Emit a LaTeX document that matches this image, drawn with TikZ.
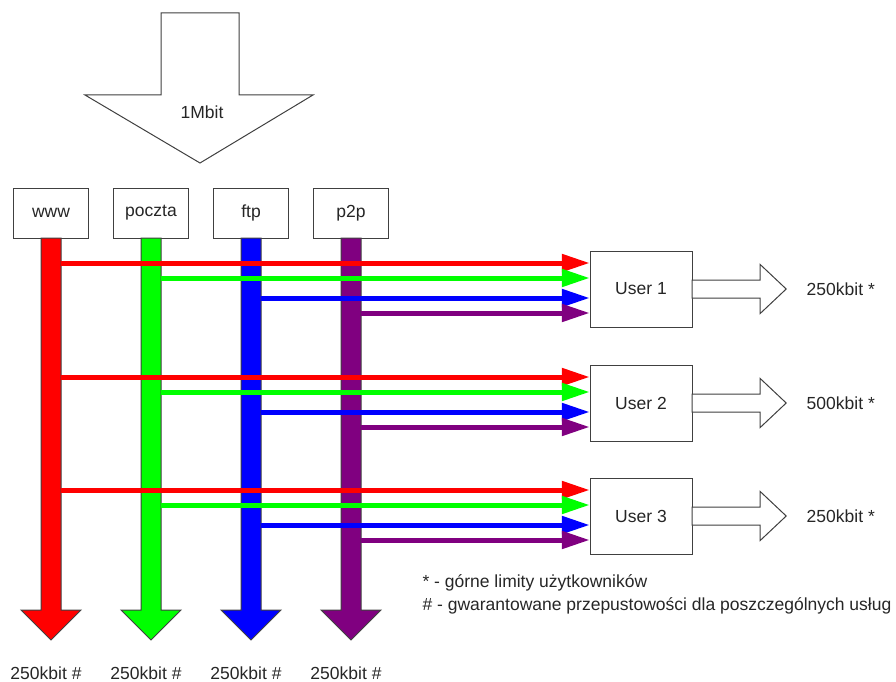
\documentclass[tikz,border=0pt]{standalone}
\usepackage{fontspec}
\setmainfont{Liberation Sans}
\usetikzlibrary{arrows.meta,calc}
\definecolor{wwwred}{RGB}{255,0,0}
\definecolor{mailgreen}{RGB}{0,255,0}
\definecolor{ftpblue}{RGB}{0,0,255}
\definecolor{ptppurple}{RGB}{128,0,128}
\tikzset{
  txt/.style={font=\fontsize{17.5}{23}\selectfont, text=black!85},
  svc/.style={draw=black!75, fill=white, minimum width=75pt, minimum height=50pt, inner sep=0pt, txt},
  usr/.style={draw=black!75, fill=white, minimum width=102pt, minimum height=76pt, inner sep=0pt, txt},
  flow/.style={line width=5pt, -{Triangle[length=28pt,width=17pt]}},
  fat/.style={draw=black!75, line width=1pt},
}
\begin{document}
\begin{tikzpicture}[x=1pt,y=-1pt]
    \useasboundingbox (0,0) rectangle (896,682);
    \draw[fat, fill=white] (161,13) -- (239,13) -- (239,95) -- (313,95) -- (200,163) -- (85,95) -- (161,95) -- cycle;
    \node[txt] (total) at (202,112) {1Mbit};
    \foreach \n/\c/\x in {www/wwwred/51, poczta/mailgreen/151, ftp/ftpblue/251, p2p/ptppurple/351} {
        \node[svc] (\n) at (\x,213) {\n};
        \node[txt] (g\n) at (\x-5,673) {250kbit \#};
        \coordinate (t\n) at (\x,640);
        \filldraw[fat, fill=\c] ($(\n.south)+(-10,0)$) -- ($(t\n)+(-10,-30)$) -- ($(t\n)+(-30,-30)$) -- (t\n)
            -- ($(t\n)+(30,-30)$) -- ($(t\n)+(10,-30)$) -- ($(\n.south)+(10,0)$) -- cycle;
    }
    \foreach \i/\y/\bw in {1/263/250, 2/377/500, 3/490/250} {
        \node[usr] (u\i) at (641,\y+26) {User \i};
        \draw[flow, wwwred] ($(www.south |- 0,\y)+(10,0)$) -- (u\i.west |- 0,\y);
        \draw[flow, mailgreen] ($(poczta.south |- 0,\y+15)+(10,0)$) -- (u\i.west |- 0,\y+15);
        \draw[flow, ftpblue] ($(ftp.south |- 0,\y+35)+(10,0)$) -- (u\i.west |- 0,\y+35);
        \draw[flow, ptppurple] ($(p2p.south |- 0,\y+50)+(10,0)$) -- (u\i.west |- 0,\y+50);
        \draw[fat, fill=white] ($(u\i.east)+(0,-9)$) -- ++(68,0) -- ++(0,-15.5) -- ++(26,24.5)
            -- ++(-26,24.5) -- ++(0,-15.5) -- ++(-68,0) -- cycle;
        \node[txt, anchor=west] (cap\i) at ($(u\i.east)+(111,0)$) {\bw kbit *};
    }
    \node[txt, anchor=west, align=left] (legend) at (419,594)
        {* - górne limity użytkowników\\\# - gwarantowane przepustowości dla poszczególnych usług};
\end{tikzpicture}
\end{document}
